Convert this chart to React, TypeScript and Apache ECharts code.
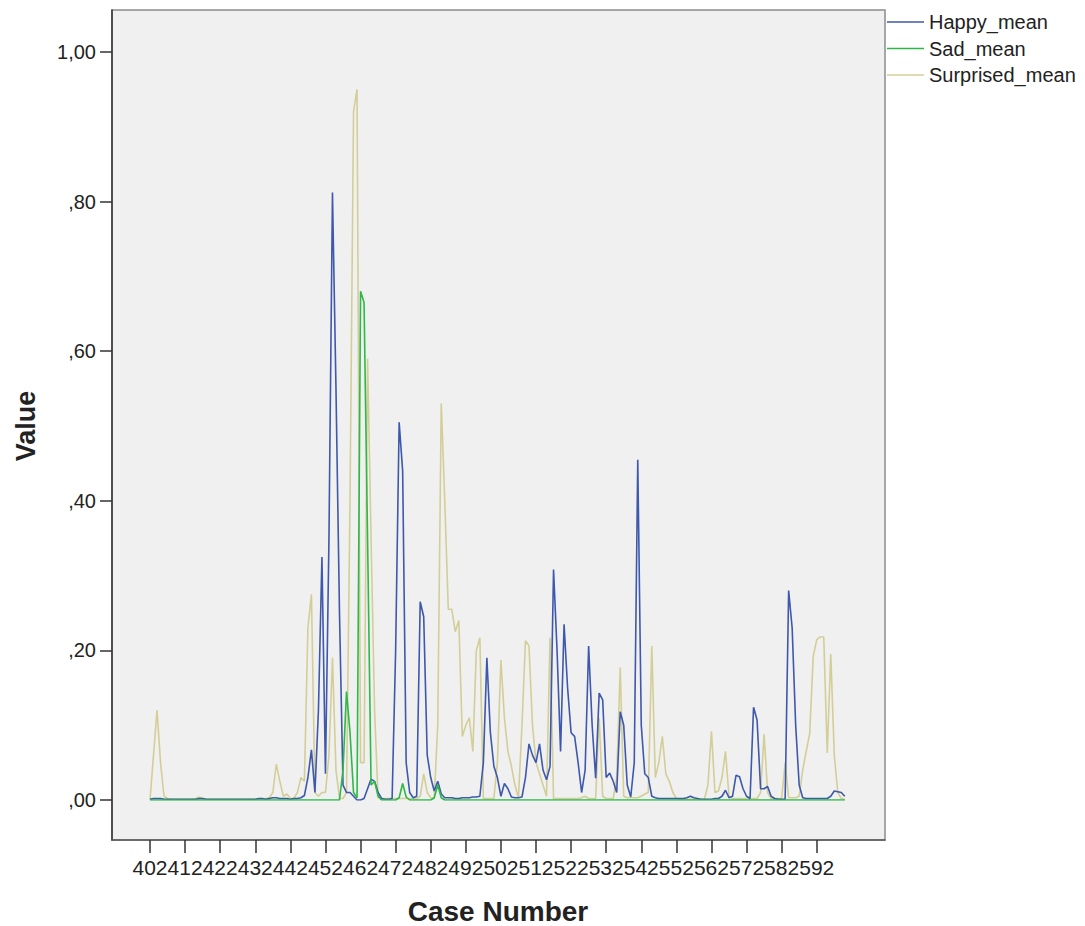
import React, { useEffect, useRef } from "react";
import * as echarts from "echarts";

const FIRST_CASE = 402;
const CASE_COUNT = 199;
const categories: string[] = Array.from({ length: CASE_COUNT }, (_, i) => String(FIRST_CASE + i));

const yTickLabels = [",00", ",20", ",40", ",60", ",80", "1,00"];
const seriesNames = ["Happy_mean", "Sad_mean", "Surprised_mean"];

const happyMean = [
  0.001, 0.002, 0.002, 0.002, 0.001, 0.001, 0.001, 0.001, 0.001, 0.001,
  0.001, 0.001, 0.001, 0.001, 0.002, 0.002, 0.001, 0.001, 0.001, 0.001,
  0.001, 0.001, 0.001, 0.001, 0.001, 0.001, 0.001, 0.001, 0.001, 0.001,
  0.001, 0.002, 0.002, 0.001, 0.002, 0.003, 0.003, 0.002, 0.002, 0.002,
  0.001, 0.002, 0.002, 0.003, 0.006, 0.03, 0.067, 0.01, 0.12, 0.325,
  0.035, 0.35, 0.812, 0.55, 0.25, 0.02, 0.01, 0.01, 0.005, 0.0,
  0.0, 0.002, 0.015, 0.028, 0.025, 0.01, 0.002, 0.001, 0.001, 0.002,
  0.2, 0.505, 0.44, 0.05, 0.01, 0.003, 0.005, 0.265, 0.245, 0.06,
  0.03, 0.012, 0.025, 0.008, 0.003, 0.003, 0.003, 0.002, 0.002, 0.003,
  0.003, 0.003, 0.004, 0.004, 0.005, 0.05, 0.19, 0.09, 0.045, 0.03,
  0.005, 0.022, 0.015, 0.004, 0.003, 0.003, 0.004, 0.03, 0.075, 0.06,
  0.05, 0.075, 0.04, 0.027, 0.045, 0.308, 0.2, 0.065, 0.235, 0.15,
  0.09, 0.085, 0.05, 0.01, 0.04, 0.206, 0.1, 0.029, 0.143, 0.134,
  0.03, 0.036, 0.025, 0.01, 0.118, 0.1, 0.02, 0.004, 0.05, 0.455,
  0.1, 0.035, 0.03, 0.005, 0.003, 0.002, 0.002, 0.002, 0.002, 0.002,
  0.002, 0.002, 0.002, 0.003, 0.005, 0.003, 0.002, 0.001, 0.001, 0.001,
  0.001, 0.002, 0.002, 0.005, 0.013, 0.003, 0.005, 0.033, 0.031, 0.015,
  0.005, 0.002, 0.124, 0.107, 0.015, 0.015, 0.018, 0.005, 0.002, 0.001,
  0.001, 0.001, 0.28, 0.23, 0.1, 0.02, 0.003, 0.002, 0.002, 0.002,
  0.002, 0.002, 0.002, 0.002, 0.005, 0.012, 0.011, 0.01, 0.005,
];

const sadMean = [
  0, 0, 0, 0, 0, 0, 0, 0, 0, 0,
  0, 0, 0, 0, 0, 0, 0, 0, 0, 0,
  0, 0, 0, 0, 0, 0, 0, 0, 0, 0,
  0, 0, 0, 0, 0, 0, 0, 0, 0, 0,
  0, 0, 0, 0, 0, 0, 0, 0, 0, 0,
  0, 0, 0, 0, 0, 0.04, 0.145, 0.09, 0.01, 0.003,
  0.68, 0.665, 0.35, 0.02, 0.025, 0.005, 0, 0, 0, 0,
  0, 0.003, 0.022, 0.004, 0, 0, 0, 0, 0, 0,
  0, 0.003, 0.02, 0.003, 0, 0, 0, 0, 0, 0,
  0, 0, 0, 0, 0, 0, 0, 0, 0, 0,
  0, 0, 0, 0, 0, 0, 0, 0, 0, 0,
  0, 0, 0, 0, 0, 0, 0, 0, 0, 0,
  0, 0, 0, 0, 0, 0, 0, 0, 0, 0,
  0, 0, 0, 0, 0, 0, 0, 0, 0, 0,
  0, 0, 0, 0, 0, 0, 0, 0, 0, 0,
  0, 0, 0, 0, 0, 0, 0, 0, 0, 0,
  0, 0, 0, 0, 0, 0, 0, 0, 0, 0,
  0, 0, 0, 0, 0, 0, 0, 0, 0, 0,
  0, 0, 0, 0, 0, 0, 0, 0, 0, 0,
  0, 0, 0, 0, 0, 0, 0, 0, 0,
];

const surprisedMean = [
  0.0, 0.06, 0.12, 0.05, 0.005, 0.002, 0.001, 0.001, 0.001, 0.001,
  0.001, 0.001, 0.001, 0.002, 0.004, 0.002, 0.001, 0.001, 0.001, 0.001,
  0.001, 0.001, 0.001, 0.001, 0.001, 0.001, 0.001, 0.001, 0.001, 0.001,
  0.001, 0.001, 0.001, 0.002, 0.003, 0.01, 0.048, 0.025, 0.005, 0.008,
  0.002, 0.002, 0.01, 0.03, 0.025, 0.23, 0.275, 0.01, 0.005, 0.01,
  0.01, 0.06, 0.19, 0.04, 0.002, 0.002, 0.01, 0.4, 0.92, 0.95,
  0.05, 0.05, 0.59, 0.35, 0.12, 0.003, 0.002, 0.002, 0.002, 0.002,
  0.002, 0.002, 0.002, 0.002, 0.002, 0.002, 0.002, 0.005, 0.035, 0.01,
  0.003, 0.002, 0.1, 0.53, 0.4, 0.255, 0.255, 0.225, 0.24, 0.085,
  0.1, 0.11, 0.065, 0.2, 0.217, 0.002, 0.002, 0.002, 0.002, 0.05,
  0.187, 0.11, 0.065, 0.045, 0.02, 0.003, 0.1, 0.213, 0.206, 0.1,
  0.05, 0.035, 0.02, 0.005, 0.217, 0.002, 0.002, 0.002, 0.002, 0.002,
  0.002, 0.002, 0.002, 0.003, 0.005, 0.002, 0.002, 0.002, 0.11, 0.005,
  0.002, 0.002, 0.002, 0.03, 0.177, 0.005, 0.003, 0.003, 0.003, 0.003,
  0.005, 0.008, 0.01, 0.206, 0.03, 0.05, 0.085, 0.035, 0.025, 0.01,
  0.002, 0.001, 0.001, 0.001, 0.001, 0.001, 0.001, 0.001, 0.001, 0.02,
  0.092, 0.01, 0.012, 0.03, 0.065, 0.005, 0.002, 0.002, 0.002, 0.002,
  0.002, 0.002, 0.002, 0.002, 0.01, 0.088, 0.01, 0.002, 0.002, 0.002,
  0.002, 0.05, 0.003, 0.003, 0.003, 0.005, 0.04, 0.065, 0.089, 0.192,
  0.214, 0.218, 0.218, 0.063, 0.195, 0.06, 0.01, 0.002, 0.001,
];

const FONT = "'Liberation Sans', Arial, Helvetica, sans-serif";
const COLORS = ["#3E58AC", "#2EB848", "#D3CE97"];

export default function App() {
  const ref = useRef<HTMLDivElement>(null);

  useEffect(() => {
    if (!ref.current) return;
    const chart = echarts.init(ref.current, undefined, { renderer: "svg" });
    const option: any = {
      animation: false,
      color: COLORS,
      textStyle: { fontFamily: FONT },
      grid: [
        { left: 150, right: 240.2, top: 52, bottom: 126 },
        {
          left: 112,
          right: 200,
          top: 10,
          bottom: 86,
          show: true,
          backgroundColor: "#f0f0f0",
          borderColor: "#8c8c8c",
          borderWidth: 1.5,
        },
      ],
      legend: {
        orient: "vertical",
        left: 887,
        top: 12,
        padding: 0,
        icon: "rect",
        itemWidth: 37,
        itemHeight: 1.5,
        itemGap: 6.5,
        data: seriesNames,
        textStyle: { fontSize: 20, color: "#222", fontFamily: FONT, lineHeight: 20 },
      },
      xAxis: [
        {
          type: "category",
          gridIndex: 0,
          data: categories,
          boundaryGap: false,
          offset: 40,
          axisLine: { show: false, onZero: false },
          axisTick: { show: true, interval: 9, length: 13, lineStyle: { color: "#333", width: 1.5 } },
          axisLabel: { interval: 9, fontSize: 21, color: "#222", margin: 17, fontFamily: FONT },
          splitLine: { show: false },
        },
        {
          type: "value",
          gridIndex: 1,
          min: 0,
          max: 1,
          axisLine: { show: true, onZero: false, lineStyle: { color: "#555", width: 1.5 } },
          axisTick: { show: false },
          axisLabel: { show: false },
          splitLine: { show: false },
        },
      ],
      yAxis: [
        {
          type: "value",
          gridIndex: 0,
          min: 0,
          max: 1,
          interval: 0.2,
          offset: 38,
          axisLine: { show: false, onZero: false },
          axisTick: { show: true, length: 12, lineStyle: { color: "#333", width: 1.5 } },
          axisLabel: {
            fontSize: 20,
            color: "#222",
            margin: 16,
            fontFamily: FONT,
            formatter: (v: number) => yTickLabels[Math.round(v / 0.2)] ?? "",
          },
          splitLine: { show: false },
        },
        {
          type: "value",
          gridIndex: 1,
          min: 0,
          max: 1,
          axisLine: { show: true, onZero: false, lineStyle: { color: "#333", width: 1.5 } },
          axisTick: { show: false },
          axisLabel: { show: false },
          splitLine: { show: false },
        },
      ],
      series: [
        {
          name: seriesNames[0],
          type: "line",
          data: happyMean,
          symbol: "none",
          z: 3,
          lineStyle: { width: 1.6, color: COLORS[0] },
          itemStyle: { color: COLORS[0] },
        },
        {
          name: seriesNames[1],
          type: "line",
          data: sadMean,
          symbol: "none",
          z: 4,
          lineStyle: { width: 1.6, color: COLORS[1] },
          itemStyle: { color: COLORS[1] },
        },
        {
          name: seriesNames[2],
          type: "line",
          data: surprisedMean,
          symbol: "none",
          z: 2,
          lineStyle: { width: 1.6, color: COLORS[2] },
          itemStyle: { color: COLORS[2] },
        },
      ],
      graphic: [
        {
          type: "text",
          x: 26,
          y: 426,
          rotation: Math.PI / 2,
          style: {
            text: "Value",
            fontSize: 27,
            fontWeight: "bold",
            fontFamily: FONT,
            fill: "#222",
            align: "center",
            verticalAlign: "middle",
          },
        },
        {
          type: "text",
          x: 498,
          y: 911,
          style: {
            text: "Case Number",
            fontSize: 28,
            fontWeight: "bold",
            fontFamily: FONT,
            fill: "#222",
            align: "center",
            verticalAlign: "middle",
          },
        },
      ],
    };
    chart.setOption(option);
    return () => chart.dispose();
  }, []);

  return (
    <div
      ref={ref}
      style={{ position: "absolute", left: 0, top: 0, width: 1085, height: 926, background: "#fff" }}
    />
  );
}
